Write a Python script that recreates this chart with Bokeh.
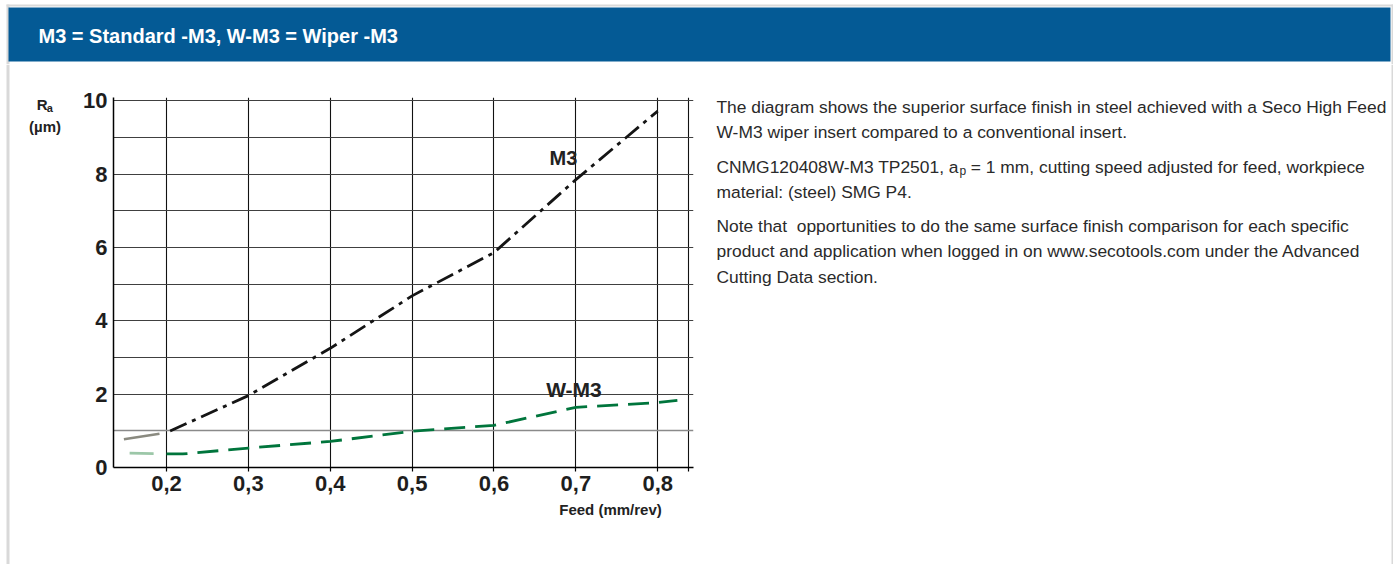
from bokeh.plotting import figure
from bokeh.models import Range1d, FixedTicker, Grid, Label, BoxAnnotation, ColumnDataSource
from bokeh.layouts import column, row
from bokeh.embed import file_html
from bokeh.resources import INLINE
from bokeh.core.validation import silence
from bokeh.core.validation.warnings import MISSING_RENDERERS

silence(MISSING_RENDERERS, True)

# ---------------- data ----------------
feed_ticks = [0.2, 0.3, 0.4, 0.5, 0.6, 0.7, 0.8]
feed_tick_labels = ["0,2", "0,3", "0,4", "0,5", "0,6", "0,7", "0,8"]
feed_edge = [0.837]
ra_ticks = [0, 2, 4, 6, 8, 10]
ra_tick_labels = ["0", "2", "4", "6", "8", "10"]
ra_grid = [2, 3, 4, 5, 6, 7, 8, 9, 10]
ra_grid_light = [1]

m3_feed = [0.148, 0.2, 0.3, 0.4, 0.5, 0.6, 0.7, 0.8]
m3_ra = [0.77, 0.95, 1.96, 3.25, 4.68, 5.86, 7.85, 9.72]

wm3_feed = [0.155, 0.2, 0.22, 0.3, 0.4, 0.5, 0.6, 0.7, 0.8, 0.824]
wm3_ra = [0.39, 0.37, 0.37, 0.53, 0.71, 0.99, 1.15, 1.64, 1.77, 1.83]

header_text = "M3 = Standard -M3, W-M3 = Wiper -M3"
body_lines = [
    "The diagram shows the superior surface finish in steel achieved with a Seco High Feed",
    "W-M3 wiper insert compared to a conventional insert.",
    "CNMG120408W-M3 TP2501, a",
    "material: (steel) SMG P4.",
    "Note that \u00a0opportunities to do the same surface finish comparison for each specific",
    "product and application when logged in on www.secotools.com under the Advanced",
    "Cutting Data section.",
]
body_sub = "p"
body_rest = "\u00a0= 1 mm, cutting speed adjusted for feed, workpiece"

FONT = "Liberation Sans"
BLUE = "#045a95"
GREEN = "#00753c"
BORDER = "#d9d9d9"


def deco_fig(w, h):
    f = figure(width=w, height=h, x_range=Range1d(0, 1), y_range=Range1d(0, 1),
               output_backend="svg", toolbar_location=None, title=None,
               min_border=0, x_axis_location=None, y_axis_location=None)
    f.outline_line_color = None
    f.background_fill_color = "white"
    f.border_fill_color = "white"
    f.xgrid.visible = False
    f.ygrid.visible = False
    return f


def lab(fig, ox, ob, text, X, Y, size, bold=False, color="#222222",
        align="left", baseline="alphabetic"):
    fig.add_layout(Label(x=X - ox, y=ob - Y, x_units="screen", y_units="screen",
                         text=text, text_font=FONT, text_font_size=size,
                         text_font_style="bold" if bold else "normal",
                         text_color=color, text_align=align,
                         text_baseline=baseline))


def box(fig, ox, ob, x0, x1, y0, y1, color):
    fig.add_layout(BoxAnnotation(left=x0 - ox, right=x1 - ox, top=ob - y0, bottom=ob - y1,
                                 left_units="screen", right_units="screen",
                                 top_units="screen", bottom_units="screen",
                                 fill_color=color, fill_alpha=1.0, line_color=None))


# ---------------- header ----------------
HW, HH = 1393, 64
hdr = deco_fig(HW, HH)
box(hdr, 0, HH, 6, 1393, 4, 6, BORDER)
box(hdr, 0, HH, 6, 9, 4, 64, BORDER)
box(hdr, 0, HH, 1391, 1393, 4, 64, BORDER)
box(hdr, 0, HH, 8, 1390, 7, 61, BLUE)
lab(hdr, 0, HH, header_text, 38, 35, "20px", bold=True, color="white", baseline="middle")

# ---------------- left strip ----------------
LW = 79
left = deco_fig(LW, 500)
LB = 564
box(left, 0, LB, 6, 9, 64, 564, BORDER)
lab(left, 0, LB, "R", 36.3, 103.5, "15px", bold=True)
lab(left, 0, LB, "a", 46.3, 107.5, "11px", bold=True)
lab(left, 0, LB, "(\u00b5m)", 44.5, 125.5, "15px", bold=True, align="center")

# ---------------- chart ----------------
p = figure(frame_width=580, frame_height=370, title=None,
           x_range=Range1d(0.1353, 0.8437), y_range=Range1d(0, 10.09),
           output_backend="svg", toolbar_location=None,
           min_border_left=34, min_border_right=7,
           min_border_top=33, min_border_bottom=32)
p.background_fill_color = "white"
p.border_fill_color = "white"
p.outline_line_color = None

xa = p.xaxis[0]
xa.ticker = FixedTicker(ticks=feed_ticks + feed_edge)
ov = {t: l for t, l in zip(feed_ticks, feed_tick_labels)}
ov[feed_edge[0]] = ""
xa.major_label_overrides = ov
xa.axis_line_color = "black"
xa.axis_line_width = 1.5
xa.major_tick_line_color = "black"
xa.major_tick_line_width = 1.2
xa.major_tick_out = 4
xa.major_tick_in = 0
xa.minor_tick_out = 0
xa.minor_tick_in = 0
xa.major_label_text_font = FONT
xa.major_label_text_font_size = "22px"
xa.major_label_text_font_style = "bold"
xa.major_label_text_color = "#1e1e1e"
xa.major_label_standoff = 4

ya = p.yaxis[0]
ya.ticker = FixedTicker(ticks=ra_ticks)
ya.major_label_overrides = {t: l for t, l in zip(ra_ticks, ra_tick_labels)}
ya.axis_line_color = "black"
ya.axis_line_width = 1.5
ya.major_tick_out = 0
ya.major_tick_in = 0
ya.minor_tick_out = 0
ya.minor_tick_in = 0
ya.major_label_text_font = FONT
ya.major_label_text_font_size = "22px"
ya.major_label_text_font_style = "bold"
ya.major_label_text_color = "#1e1e1e"
ya.major_label_standoff = 6

p.xgrid.ticker = FixedTicker(ticks=feed_ticks + feed_edge)
p.xgrid.grid_line_color = "#111111"
p.xgrid.grid_line_width = 1.1
p.ygrid.ticker = FixedTicker(ticks=ra_grid)
p.ygrid.grid_line_color = "#404040"
p.ygrid.grid_line_width = 1.1
p.add_layout(Grid(dimension=1, ticker=FixedTicker(ticks=ra_grid_light),
                  grid_line_color="#8a8a8a", grid_line_width=1.4))

m3_src = ColumnDataSource(dict(x=m3_feed[1:], y=m3_ra[1:]))
m3_start = ColumnDataSource(dict(x=m3_feed[:2], y=m3_ra[:2]))
w_src = ColumnDataSource(dict(x=wm3_feed[1:], y=wm3_ra[1:]))
w_start = ColumnDataSource(dict(x=wm3_feed[:2], y=wm3_ra[:2]))

p.line("x", "y", source=m3_start, line_color="#8a8a80", line_width=2.6,
       line_dash="36 60")
p.line("x", "y", source=m3_src, line_color="#151515", line_width=2.8,
       line_dash="18 6 4 6", line_dash_offset=-4)
p.line("x", "y", source=w_start, line_color="#9cc7a8", line_width=2.8,
       line_dash="24 60")
p.line("x", "y", source=w_src, line_color=GREEN, line_width=2.8,
       line_dash="21 10")

# labels in chart frame (frame left = 113, bottom = 467 in page pixels)
lab(p, 113, 467, "M3", 563, 157, "20px", bold=True, align="center")
lab(p, 113, 467, "W-M3", 573.5, 388.5, "21px", bold=True, align="center")

# ---------------- feed label strip (its frame is aligned with the chart frame) ----------------
FH = 564 - (64 + 33 + 370 + 32)
feed = deco_fig(621, FH)
FB = 564
lab(feed, 113, FB, "Feed (mm/rev)", 610, 508.5, "15px", bold=True, align="center")

# ---------------- text panel ----------------
TW = 693
txt = deco_fig(TW, 500)
TB = 564
OX = 700
box(txt, OX, TB, 1391, 1393, 64, 564, BORDER)
TX = 716
TC = "#2a2a2a"
TS = "17.4px"
lab(txt, OX, TB, body_lines[0], TX, 106.5, TS, color=TC)
lab(txt, OX, TB, body_lines[1], TX, 131.5, TS, color=TC)
lab(txt, OX, TB, body_lines[2], TX, 166.5, TS, color=TC)
lab(txt, OX, TB, body_sub, 959, 170.5, "12px", color=TC)
lab(txt, OX, TB, body_rest, 965.5, 166.5, TS, color=TC)
lab(txt, OX, TB, body_lines[3], TX, 191.5, TS, color=TC)
lab(txt, OX, TB, body_lines[4], TX, 225.5, TS, color=TC)
lab(txt, OX, TB, body_lines[5], TX, 250.5, TS, color=TC)
lab(txt, OX, TB, body_lines[6], TX, 276, TS, color=TC)

layout = column(hdr, row(left, column(p, feed), txt))
open("out.html", "w").write(file_html(layout, INLINE))
